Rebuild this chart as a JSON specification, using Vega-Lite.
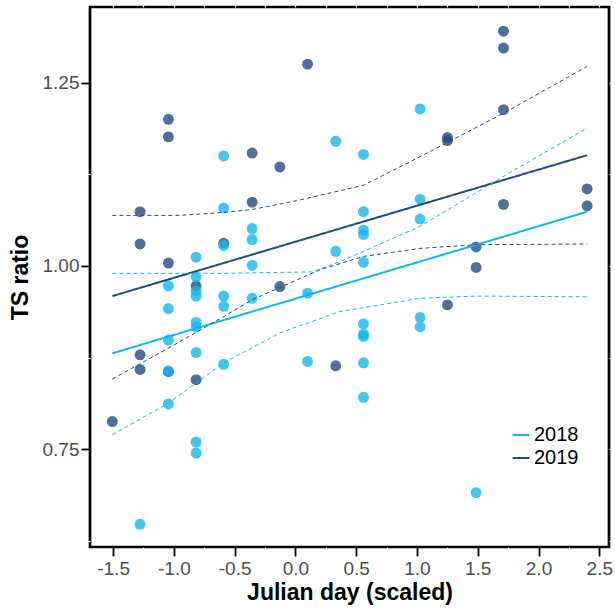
{
  "$schema": "https://vega.github.io/schema/vega-lite/v6.json",
  "width": 519,
  "height": 540,
  "autosize": "none",
  "padding": {"left": 90, "top": 7, "right": 6, "bottom": 65},
  "background": "white",
  "config": {
    "view": {"stroke": "#000000", "strokeWidth": 2.7},
    "font": "Liberation Sans",
    "axis": {
      "domain": false,
      "grid": false,
      "ticks": true,
      "tickColor": "#000000",
      "tickWidth": 1.8,
      "tickSize": 9,
      "labelFont": "Liberation Sans",
      "labelFontSize": 19,
      "labelColor": "#4d4d4d",
      "titleFont": "Liberation Sans",
      "titleFontSize": 23,
      "titleFontWeight": "bold",
      "titleColor": "#000000"
    }
  },
  "resolve": {"axis": {"x": "independent", "y": "independent"}},
  "datasets": {
    "pts": [
      {"x": 0.10, "y": 1.275, "year": "2019"},
      {"x": -1.045, "y": 1.200, "year": "2019"},
      {"x": -1.045, "y": 1.176, "year": "2019"},
      {"x": -0.356, "y": 1.154, "year": "2019"},
      {"x": -0.128, "y": 1.135, "year": "2019"},
      {"x": -1.278, "y": 1.074, "year": "2019"},
      {"x": -0.356, "y": 1.087, "year": "2019"},
      {"x": -1.278, "y": 1.030, "year": "2019"},
      {"x": -0.59, "y": 1.031, "year": "2019"},
      {"x": -1.045, "y": 1.004, "year": "2019"},
      {"x": 1.712, "y": 1.320, "year": "2019"},
      {"x": 1.712, "y": 1.297, "year": "2019"},
      {"x": 1.712, "y": 1.213, "year": "2019"},
      {"x": 1.251, "y": 1.175, "year": "2019"},
      {"x": 1.251, "y": 1.171, "year": "2019"},
      {"x": 2.40, "y": 1.105, "year": "2019"},
      {"x": 2.40, "y": 1.082, "year": "2019"},
      {"x": 1.712, "y": 1.084, "year": "2019"},
      {"x": 1.487, "y": 1.026, "year": "2019"},
      {"x": 1.487, "y": 0.998, "year": "2019"},
      {"x": -0.817, "y": 0.973, "year": "2019"},
      {"x": -0.128, "y": 0.972, "year": "2019"},
      {"x": -1.278, "y": 0.879, "year": "2019"},
      {"x": -1.278, "y": 0.859, "year": "2019"},
      {"x": -1.045, "y": 0.856, "year": "2019"},
      {"x": -0.817, "y": 0.845, "year": "2019"},
      {"x": 0.332, "y": 0.864, "year": "2019"},
      {"x": -1.506, "y": 0.788, "year": "2019"},
      {"x": 1.251, "y": 0.947, "year": "2019"},
      {"x": -0.59, "y": 1.150, "year": "2018"},
      {"x": 0.332, "y": 1.170, "year": "2018"},
      {"x": -0.59, "y": 1.079, "year": "2018"},
      {"x": -0.356, "y": 1.051, "year": "2018"},
      {"x": -0.356, "y": 1.036, "year": "2018"},
      {"x": -0.59, "y": 1.028, "year": "2018"},
      {"x": -0.817, "y": 1.012, "year": "2018"},
      {"x": -0.356, "y": 1.001, "year": "2018"},
      {"x": 0.332, "y": 1.020, "year": "2018"},
      {"x": -0.817, "y": 0.985, "year": "2018"},
      {"x": 1.026, "y": 1.214, "year": "2018"},
      {"x": 0.56, "y": 1.152, "year": "2018"},
      {"x": 1.026, "y": 1.091, "year": "2018"},
      {"x": 1.026, "y": 1.064, "year": "2018"},
      {"x": 0.56, "y": 1.074, "year": "2018"},
      {"x": 0.56, "y": 1.049, "year": "2018"},
      {"x": 0.56, "y": 1.043, "year": "2018"},
      {"x": 0.56, "y": 1.005, "year": "2018"},
      {"x": -1.045, "y": 0.973, "year": "2018"},
      {"x": -0.817, "y": 0.966, "year": "2018"},
      {"x": -0.817, "y": 0.959, "year": "2018"},
      {"x": -0.59, "y": 0.959, "year": "2018"},
      {"x": -0.59, "y": 0.945, "year": "2018"},
      {"x": -0.356, "y": 0.956, "year": "2018"},
      {"x": 0.10, "y": 0.963, "year": "2018"},
      {"x": -1.045, "y": 0.942, "year": "2018"},
      {"x": -0.817, "y": 0.923, "year": "2018"},
      {"x": -0.817, "y": 0.917, "year": "2018"},
      {"x": -1.045, "y": 0.899, "year": "2018"},
      {"x": -0.817, "y": 0.882, "year": "2018"},
      {"x": -0.59, "y": 0.866, "year": "2018"},
      {"x": 0.10, "y": 0.870, "year": "2018"},
      {"x": -1.045, "y": 0.812, "year": "2018"},
      {"x": -0.817, "y": 0.760, "year": "2018"},
      {"x": -0.817, "y": 0.745, "year": "2018"},
      {"x": -1.278, "y": 0.648, "year": "2018"},
      {"x": 0.56, "y": 0.921, "year": "2018"},
      {"x": 0.56, "y": 0.907, "year": "2018"},
      {"x": 0.56, "y": 0.904, "year": "2018"},
      {"x": 0.56, "y": 0.868, "year": "2018"},
      {"x": 0.56, "y": 0.821, "year": "2018"},
      {"x": 1.026, "y": 0.930, "year": "2018"},
      {"x": 1.026, "y": 0.917, "year": "2018"},
      {"x": 1.487, "y": 0.691, "year": "2018"},
      {"x": -1.045, "y": 0.857, "year": "2018"}
    ],
    "lines": [
      {"x": -1.506, "y": 0.881, "year": "2018", "type": "fit", "line": "2018 fit"},
      {"x": 2.40, "y": 1.074, "year": "2018", "type": "fit", "line": "2018 fit"},
      {"x": -1.506, "y": 0.959, "year": "2019", "type": "fit", "line": "2019 fit"},
      {"x": 2.40, "y": 1.151, "year": "2019", "type": "fit", "line": "2019 fit"},
      {"x": -1.506, "y": 0.990, "year": "2018", "type": "ci", "line": "2018 upper"},
      {"x": -0.59, "y": 0.990, "year": "2018", "type": "ci", "line": "2018 upper"},
      {"x": 0.146, "y": 0.992, "year": "2018", "type": "ci", "line": "2018 upper"},
      {"x": 0.368, "y": 1.006, "year": "2018", "type": "ci", "line": "2018 upper"},
      {"x": 1.026, "y": 1.054, "year": "2018", "type": "ci", "line": "2018 upper"},
      {"x": 1.71, "y": 1.122, "year": "2018", "type": "ci", "line": "2018 upper"},
      {"x": 2.40, "y": 1.188, "year": "2018", "type": "ci", "line": "2018 upper"},
      {"x": -1.506, "y": 0.770, "year": "2018", "type": "ci", "line": "2018 lower"},
      {"x": -1.045, "y": 0.813, "year": "2018", "type": "ci", "line": "2018 lower"},
      {"x": -0.59, "y": 0.868, "year": "2018", "type": "ci", "line": "2018 lower"},
      {"x": -0.126, "y": 0.909, "year": "2018", "type": "ci", "line": "2018 lower"},
      {"x": 0.368, "y": 0.938, "year": "2018", "type": "ci", "line": "2018 lower"},
      {"x": 1.026, "y": 0.956, "year": "2018", "type": "ci", "line": "2018 lower"},
      {"x": 1.487, "y": 0.959, "year": "2018", "type": "ci", "line": "2018 lower"},
      {"x": 2.40, "y": 0.958, "year": "2018", "type": "ci", "line": "2018 lower"},
      {"x": -1.506, "y": 1.069, "year": "2019", "type": "ci", "line": "2019 upper"},
      {"x": -0.95, "y": 1.069, "year": "2019", "type": "ci", "line": "2019 upper"},
      {"x": -0.59, "y": 1.073, "year": "2019", "type": "ci", "line": "2019 upper"},
      {"x": -0.356, "y": 1.077, "year": "2019", "type": "ci", "line": "2019 upper"},
      {"x": 0.01, "y": 1.089, "year": "2019", "type": "ci", "line": "2019 upper"},
      {"x": 0.56, "y": 1.110, "year": "2019", "type": "ci", "line": "2019 upper"},
      {"x": 1.026, "y": 1.149, "year": "2019", "type": "ci", "line": "2019 upper"},
      {"x": 1.71, "y": 1.208, "year": "2019", "type": "ci", "line": "2019 upper"},
      {"x": 2.40, "y": 1.272, "year": "2019", "type": "ci", "line": "2019 upper"},
      {"x": -1.506, "y": 0.846, "year": "2019", "type": "ci", "line": "2019 lower"},
      {"x": -1.045, "y": 0.888, "year": "2019", "type": "ci", "line": "2019 lower"},
      {"x": -0.59, "y": 0.931, "year": "2019", "type": "ci", "line": "2019 lower"},
      {"x": -0.356, "y": 0.954, "year": "2019", "type": "ci", "line": "2019 lower"},
      {"x": 0.203, "y": 0.995, "year": "2019", "type": "ci", "line": "2019 lower"},
      {"x": 0.56, "y": 1.013, "year": "2019", "type": "ci", "line": "2019 lower"},
      {"x": 1.026, "y": 1.024, "year": "2019", "type": "ci", "line": "2019 lower"},
      {"x": 1.487, "y": 1.029, "year": "2019", "type": "ci", "line": "2019 lower"},
      {"x": 2.40, "y": 1.030, "year": "2019", "type": "ci", "line": "2019 lower"}
    ]
  },
  "layer": [
    {
      "data": {"name": "pts"},
      "mark": {"type": "circle", "size": 120, "opacity": 0.8},
      "encoding": {
        "x": {
          "field": "x", "type": "quantitative",
          "scale": {"domain": [-1.69, 2.58], "nice": false, "zero": false},
          "axis": {
            "title": "Julian day (scaled)",
            "values": [-1.5, -1.25, -1.0, -0.75, -0.5, -0.25, 0.0, 0.25, 0.5, 0.75, 1.0, 1.25, 1.5, 1.75, 2.0, 2.25, 2.5],
            "format": ".1f",
            "labelExpr": "abs(datum.value*2 - round(datum.value*2)) < 0.01 ? replace(datum.label, '\u2212', '-') : ''",
            "tickColor": {"condition": {"test": "abs(datum.value*2 - round(datum.value*2)) > 0.01", "value": "#ffffff"}, "value": "#000000"},
            "tickSize": {"condition": {"test": "abs(datum.value*2 - round(datum.value*2)) > 0.01", "value": 3}, "value": 9},
            "tickWidth": {"condition": {"test": "abs(datum.value*2 - round(datum.value*2)) > 0.01", "value": 1.2}, "value": 1.8},
            "labelPadding": 3,
            "titlePadding": 3
          }
        },
        "y": {
          "field": "y", "type": "quantitative",
          "scale": {"domain": [0.617, 1.353], "nice": false, "zero": false},
          "axis": {
            "title": "TS ratio",
            "values": [0.625, 0.75, 0.875, 1.0, 1.125, 1.25],
            "format": ".2f",
            "labelExpr": "abs(datum.value*4 - round(datum.value*4)) < 0.01 ? datum.label : ''",
            "tickColor": {"condition": {"test": "abs(datum.value*4 - round(datum.value*4)) > 0.01", "value": "#ffffff"}, "value": "#000000"},
            "tickSize": {"condition": {"test": "abs(datum.value*4 - round(datum.value*4)) > 0.01", "value": 3}, "value": 9},
            "tickWidth": {"condition": {"test": "abs(datum.value*4 - round(datum.value*4)) > 0.01", "value": 1.2}, "value": 1.8},
            "labelPadding": 2,
            "titlePadding": 10
          }
        },
        "fill": {
          "field": "year", "type": "nominal",
          "scale": {"domain": ["2019", "2018"], "range": ["#1f4e85", "#12b6ef"]},
          "legend": null
        }
      }
    },
    {
      "data": {"name": "lines"},
      "mark": {"type": "line"},
      "encoding": {
        "x": {
          "field": "x", "type": "quantitative",
          "axis": {
            "orient": "top", "title": null, "labels": false,
            "values": [-1.5, -1.25, -1.0, -0.75, -0.5, -0.25, 0.0, 0.25, 0.5, 0.75, 1.0, 1.25, 1.5, 1.75, 2.0, 2.25, 2.5],
            "tickColor": "#ffffff", "tickSize": 3, "tickWidth": 1.2
          }
        },
        "y": {
          "field": "y", "type": "quantitative",
          "axis": {
            "orient": "right", "title": null, "labels": false,
            "values": [0.625, 0.75, 0.875, 1.0, 1.125, 1.25],
            "tickColor": "#ffffff", "tickSize": 3, "tickWidth": 1.2
          }
        },
        "detail": {"field": "line", "type": "nominal"},
        "color": {
          "field": "year", "type": "nominal",
          "scale": {"domain": ["2018", "2019"], "range": ["#12b6ef", "#1f4e85"]},
          "legend": {
            "title": null,
            "orient": "none",
            "legendX": 421,
            "legendY": 418,
            "padding": 0,
            "symbolType": "stroke",
            "symbolSize": 280,
            "symbolStrokeWidth": 2,
            "labelFont": "Liberation Sans",
            "labelFontSize": 20,
            "labelColor": "#000000",
            "labelOffset": 3,
            "rowPadding": 3
          }
        },
        "strokeDash": {
          "field": "type", "type": "nominal",
          "scale": {"domain": ["fit", "ci"], "range": [[1, 0], [4, 3]]},
          "legend": null
        },
        "strokeWidth": {
          "field": "type", "type": "nominal",
          "scale": {"domain": ["fit", "ci"], "range": [2, 1]},
          "legend": null
        }
      }
    }
  ]
}
